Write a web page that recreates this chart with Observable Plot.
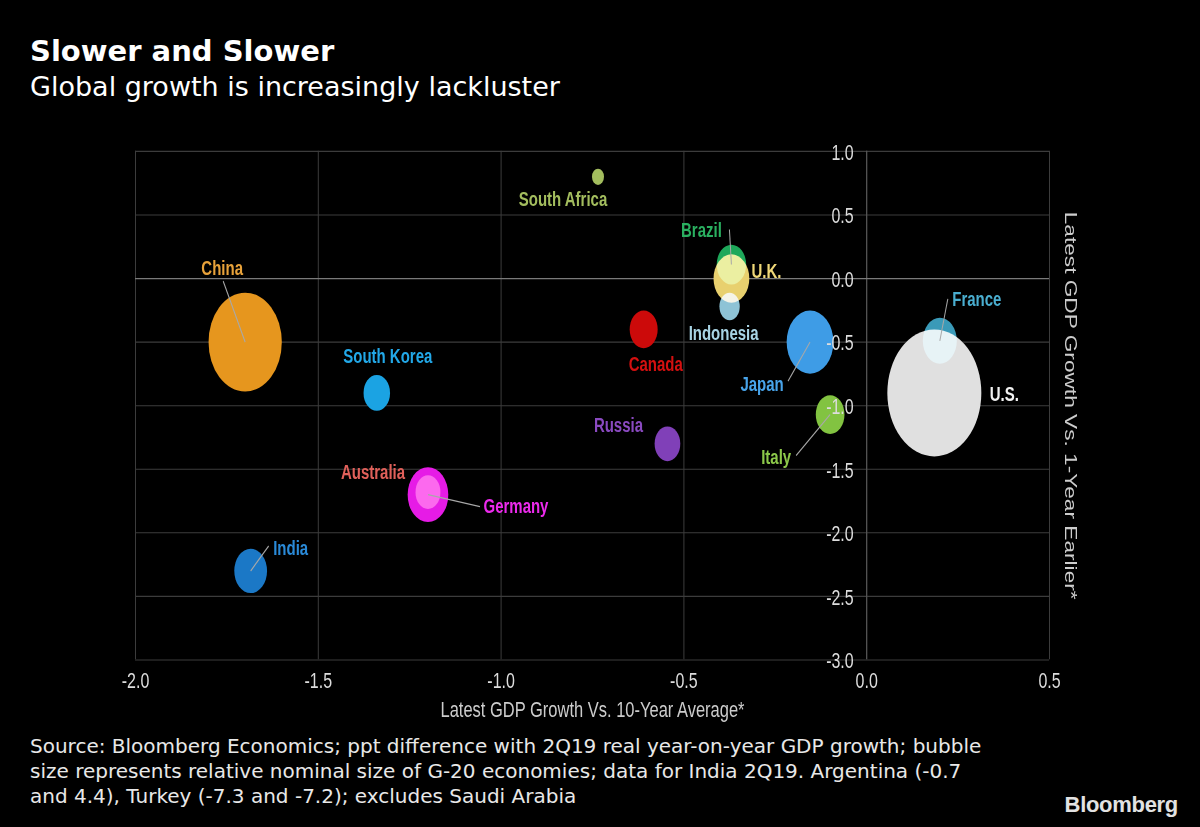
<!DOCTYPE html>
<html>
<head>
<meta charset="utf-8">
<script src="https://cdn.jsdelivr.net/npm/d3@7"></script>
<script src="https://cdn.jsdelivr.net/npm/@observablehq/plot@0.6"></script>
<style>
  html, body { margin: 0; padding: 0; background: #000; }
  body { width: 1200px; height: 827px; position: relative; overflow: hidden; }
  #title { position: absolute; left: 30px; top: 37px; font: bold 29px/29px "DejaVu Sans", sans-serif; color: #fff; white-space: nowrap; }
  #subtitle { position: absolute; left: 30px; top: 73px; font: 27px/27px "DejaVu Sans", sans-serif; color: #fff; white-space: nowrap; }
  #chart { position: absolute; left: 0; top: 130px; transform-origin: 0 0; }
  #caption { position: absolute; left: 30px; top: 734px; font: 20px/25px "DejaVu Sans", sans-serif; color: #e8e8e8; white-space: nowrap; }
  #logo { position: absolute; right: 22px; top: 794px; font: bold 22px/22px "Liberation Sans", Arial, sans-serif; color: #e2e2e2; letter-spacing: -0.3px; }
</style>
</head>
<body>
<div id="title">Slower and Slower</div>
<div id="subtitle">Global growth is increasingly lackluster</div>
<div id="chart"></div>
<div id="caption">Source: Bloomberg Economics; ppt difference with 2Q19 real year-on-year GDP growth; bubble<br>size represents relative nominal size of G-20 economies; data for India 2Q19. Argentina (-0.7<br>and 4.4), Turkey (-7.3 and -7.2); excludes Saudi Arabia</div>
<div id="logo">Bloomberg</div>
<script>
// ---- data ----
const countries = ["China", "South Africa", "Brazil", "U.K.", "Indonesia", "Canada", "Japan", "Italy", "U.S.", "France", "South Korea", "India", "Germany", "Australia", "Russia"];
const growthVs10YearAvg = [-1.70, -0.735, -0.37, -0.37, -0.375, -0.61, -0.155, -0.10, 0.185, 0.20, -1.34, -1.685, -1.20, -1.20, -0.545];
const growthVs1YearEarlier = [-0.50, 0.80, 0.11, 0.00, -0.22, -0.40, -0.50, -1.07, -0.90, -0.49, -0.90, -2.30, -1.70, -1.68, -1.30];
const nominalSize = [13.0, 0.35, 2.1, 3.1, 1.0, 1.9, 5.3, 2.0, 21.4, 2.8, 1.7, 2.6, 4.0, 1.5, 1.6];
const xTicks = [-2.0, -1.5, -1.0, -0.5, 0.0, 0.5];
const yTicks = [1.0, 0.5, 0.0, -0.5, -1.0, -1.5, -2.0, -2.5, -3.0];
const xTitle = "Latest GDP Growth Vs. 10-Year Average*";
const yTitle = "Latest GDP Growth Vs. 1-Year Earlier*";

// ---- styles ----
const palette = ["#e6961e", "#a3bd5e", "#1ea85a", "#e8d06e", "#8ec3d6", "#cc0a0a", "#3e9ce6", "#82c341", "#e0e0e0", "#3a9ab8", "#1ba3e3", "#1b78c6", "#e61be6", "#e0574f", "#8040b8"];
const labelColors = {"China": "#e8a23a", "South Africa": "#a3bd5e", "Brazil": "#2ab060", "U.K.": "#f0d878", "Indonesia": "#a8d4e4", "Canada": "#d41010", "Japan": "#48a4ea", "Italy": "#8cc84a", "U.S.": "#f2f2f2", "France": "#4aaed0", "South Korea": "#22a8e8", "India": "#2a8ad8", "Germany": "#ec2aec", "Australia": "#e0605a", "Russia": "#8a4ac0"};
// label offsets and leader-line ends, in screen pixels relative to the bubble centre
const labelLayout = {
  "China": {dx: -23, dy: -74, leader: [-22, -61]},
  "South Africa": {dx: -35, dy: 23},
  "Brazil": {dx: -30, dy: -34, leader: [-2, -35]},
  "U.K.": {dx: 35, dy: -7},
  "Indonesia": {dx: -6, dy: 27},
  "Canada": {dx: 12, dy: 35},
  "Japan": {dx: -48, dy: 42, leader: [-22, 39]},
  "Italy": {dx: -54, dy: 43, leader: [-34, 41]},
  "U.S.": {dx: 70, dy: 2},
  "France": {dx: 37, dy: -41, leader: [8, -42]},
  "South Korea": {dx: 11, dy: -36},
  "India": {dx: 40, dy: -22, leader: [18, -25]},
  "Germany": {dx: 88, dy: 12, leader: [52, 12]},
  "Australia": {dx: -55, dy: -20},
  "Russia": {dx: -49, dy: -18}
};

const K = 1.35; // vertical stretch of the reference image
const rows = countries.map((name, i) => ({name, x: growthVs10YearAvg[i], y: growthVs1YearEarlier[i], size: nominalSize[i]}));

const leaderSymbol = (lx, ly) => ({draw(ctx) { ctx.moveTo(0, 0); ctx.lineTo(lx, ly); }});

const leaderMarks = [];
const labelMarks = [];
rows.forEach(row => {
  const L = labelLayout[row.name];
  if (L.leader) {
    leaderMarks.push(Plot.dot([row], {x: "x", y: "y", symbol: leaderSymbol(L.leader[0], L.leader[1] / K), stroke: "#a8a8a8", strokeWidth: 1, fill: "none"}));
  }
  labelMarks.push(Plot.text([row], {x: "x", y: "y", text: "name", dx: L.dx, dy: L.dy / K, fill: labelColors[row.name], fontSize: 15, fontWeight: "bold"}));
});

const H = 444;
const chart = Plot.plot({
  width: 1200,
  height: H,
  marginLeft: 135,
  marginRight: 151,
  marginTop: 15.33,
  marginBottom: 51.93,
  x: {domain: [-2, 0.5], axis: null},
  y: {domain: [-3, 1], axis: null},
  r: {domain: [0, d3.max(nominalSize)], range: [0, 47]},
  color: {domain: countries, range: palette},
  style: {background: "transparent", color: "#ddd", fontFamily: "'Liberation Sans', Arial, sans-serif", overflow: "visible"},
  marks: [
    Plot.ruleX(xTicks, {stroke: "#3c3c3c", strokeWidth: 1}),
    Plot.ruleY(yTicks, {stroke: "#3c3c3c", strokeWidth: 0.8}),
    Plot.ruleX([0], {stroke: "#5c5c5c", strokeWidth: 1}),
    Plot.ruleY([0], {stroke: "#7a7a7a", strokeWidth: 0.9}),
    Plot.dot(rows, {x: "x", y: "y", r: "size", fill: "name", mixBlendMode: "screen"}),
    ...leaderMarks,
    ...labelMarks,
    Plot.text(yTicks, {x: () => 0, y: d => d, text: d => d.toFixed(1), textAnchor: "end", dx: -13, dy: 1, fontSize: 16, fill: "#dddddd"}),
    Plot.text(xTicks, {x: d => d, frameAnchor: "bottom", text: d => d.toFixed(1), dy: 21, fontSize: 16, fill: "#dddddd"}),
    Plot.text([xTitle], {frameAnchor: "bottom", text: d => d, dy: 42, fontSize: 16.5, fill: "#cccccc"}),
    Plot.text([yTitle], {frameAnchor: "right", text: d => d, textAnchor: "middle", rotate: 90, dx: 21, fontSize: 16.8, fill: "#cccccc"})
  ]
});

const dotGroup = chart.querySelector('g[aria-label="dot"]');
if (dotGroup) {
  dotGroup.style.isolation = "isolate";
  dotGroup.querySelectorAll("circle, path").forEach(el => el.style.mixBlendMode = "screen");
}
const holder = document.getElementById("chart");
holder.style.transform = `scaleY(${K})`;
holder.appendChild(chart);
</script>
</body>
</html>
